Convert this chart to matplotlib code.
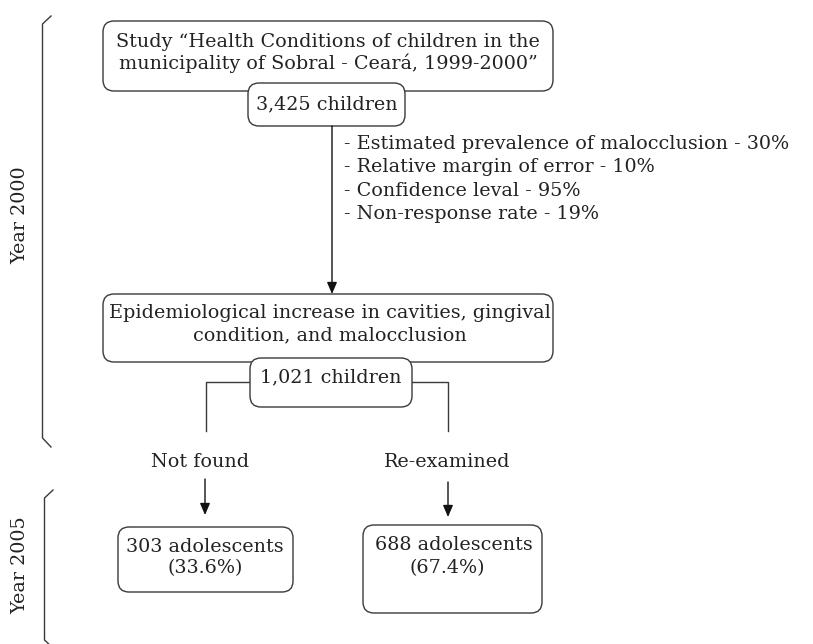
import matplotlib
matplotlib.use("Agg")
import matplotlib.pyplot as plt
from matplotlib.patches import FancyBboxPatch

# Texts of the flowchart
study_lines = ["Study \u201cHealth Conditions of children in the",
               "municipality of Sobral - Cear\u00e1, 1999-2000\u201d"]
study_n = "3,425 children"
criteria = ["- Estimated prevalence of malocclusion - 30%",
            "- Relative margin of error - 10%",
            "- Confidence leval - 95%",
            "- Non-response rate - 19%"]
exam_lines = ["Epidemiological increase in cavities, gingival",
              "condition, and malocclusion"]
exam_n = "1,021 children"
branch_labels = ["Not found", "Re-examined"]
outcome_lines = [["303 adolescents", "(33.6%)"],
                 ["688 adolescents", "(67.4%)"]]
period_labels = ["Year 2000", "Year 2005"]

LINE = "#3a3a3a"
TEXT = "#222222"
FONT = "DejaVu Serif"
FS = 13.8

fig = plt.figure(figsize=(8.13, 6.44), dpi=100)
ax = fig.add_axes([0, 0, 1, 1])
ax.set_xlim(0, 813)
ax.set_ylim(644, 0)
ax.axis("off")


def box(x0, y0, x1, y1, z=2):
    p = FancyBboxPatch((x0, y0), x1 - x0, y1 - y0,
                       boxstyle="round,pad=0,rounding_size=11",
                       facecolor="white", edgecolor=LINE, linewidth=1.0, zorder=z)
    ax.add_patch(p)


def text(x, y, s, ha="center", **kw):
    ax.text(x, y, s, ha=ha, va="center", fontsize=FS, family=FONT,
            color=TEXT, zorder=5, **kw)


def arrow(x, y0, y1):
    ax.annotate("", xy=(x, y1), xytext=(x, y0),
                arrowprops=dict(arrowstyle="-|>,head_length=0.7,head_width=0.3",
                                color="#111111", lw=1.0, shrinkA=0, shrinkB=0),
                zorder=3)


# Period braces
ax.plot([51, 42.5, 42.5, 51], [16, 24, 438, 447], color=LINE, lw=1.0)
ax.plot([53, 44.5, 44.5, 53], [490, 498, 640, 648], color=LINE, lw=1.0)
text(20, 215, period_labels[0], rotation=90)
text(20, 565, period_labels[1], rotation=90)

# Study box
box(103, 21, 553, 91)
text(328, 42, study_lines[0])
text(328, 63, study_lines[1])
box(248, 83, 405, 126, z=3)
text(327, 104, study_n)

# Arrow and sampling criteria
arrow(332, 126, 294)
for i, line in enumerate(criteria):
    text(344, 144 + i * 23.3, line, ha="left")

# Examination box
box(103, 294, 553, 362)
text(330, 313, exam_lines[0])
text(330, 335, exam_lines[1])
box(250, 358, 412, 407, z=3)
text(331, 377, exam_n)

# Branches
ax.plot([250, 206, 206], [382, 382, 431], color=LINE, lw=1.0)
ax.plot([412, 448, 448], [382, 382, 431], color=LINE, lw=1.0)
text(200, 462, branch_labels[0])
text(447, 462, branch_labels[1])
arrow(205, 479, 515)
arrow(448, 482, 517)

# Outcomes
box(118, 527, 293, 592)
text(205, 547, outcome_lines[0][0])
text(205, 568, outcome_lines[0][1])
box(363, 525, 542, 613)
text(454, 545, outcome_lines[1][0])
text(447, 568, outcome_lines[1][1])

fig.savefig("out.png", dpi=100)
